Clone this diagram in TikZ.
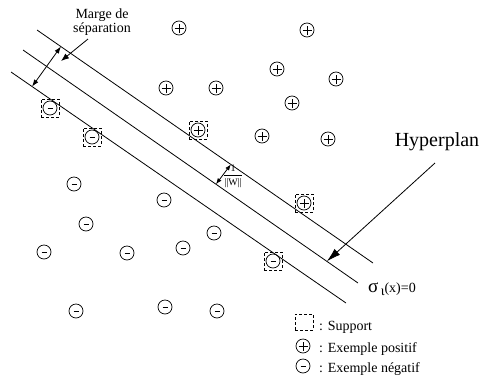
\documentclass[tikz,border=0pt]{standalone}
\usepackage{fontspec}
\setmainfont{Liberation Serif}
\usetikzlibrary{arrows.meta,calc}

\begin{document}
\begin{tikzpicture}[x=1pt,y=-1pt,
  ln/.style={line width=0.8pt},
  expoint/.style={circle,draw,line width=0.7pt,minimum size=14pt,inner sep=0pt},
  plusex/.style={expoint,path picture={\draw[line width=0.7pt]
      ([xshift=-4.5pt]path picture bounding box.center) -- ([xshift=4.5pt]path picture bounding box.center)
      ([yshift=-4.5pt]path picture bounding box.center) -- ([yshift=4.5pt]path picture bounding box.center);}},
  minusex/.style={expoint,path picture={\draw[line width=1pt]
      ([xshift=-2.5pt]path picture bounding box.center) -- ([xshift=2.5pt]path picture bounding box.center);}},
  supbox/.style={draw,dash pattern=on 3pt off 2pt,line width=0.7pt,minimum size=18pt,inner sep=0pt},
  txt/.style={font=\fontsize{14}{14.5}\selectfont, inner sep=0pt},
  arrowline/.style={line width=0.8pt},
]
\path[fill=white,use as bounding box] (0,0) rectangle (485,381);

% the three parallel lines: margin borders and separating hyperplane
\coordinate (a1) at (37,30);  \coordinate (a2) at (373,263);
\coordinate (b1) at (23,50);  \coordinate (b2) at (358,283);
\coordinate (c1) at (11,72);  \coordinate (c2) at (346,303);
\draw[ln] (a1) -- (a2);
\draw[ln] (b1) -- (b2);
\draw[ln] (c1) -- (c2);

% positive examples
\node[plusex] (p1) at (179,28) {};
\node[plusex] (p2) at (307,30) {};
\node[plusex] (p3) at (277,69) {};
\node[plusex] (p4) at (336,79) {};
\node[plusex] (p5) at (166,88) {};
\node[plusex] (p6) at (216,88) {};
\node[plusex] (p7) at (292,103) {};
\node[plusex] (p8) at (262,136) {};
\node[plusex] (p9) at (328,139) {};
\node[plusex] (ps1) at (198,130) {};
\node[plusex] (ps2) at (304,203) {};

% negative examples
\node[minusex] (n1) at (74,184) {};
\node[minusex] (n2) at (164,200) {};
\node[minusex] (n3) at (86,224) {};
\node[minusex] (n4) at (214,233) {};
\node[minusex] (n5) at (44,252) {};
\node[minusex] (n6) at (183,248) {};
\node[minusex] (n7) at (127,253) {};
\node[minusex] (n8) at (76,311) {};
\node[minusex] (n9) at (165,307) {};
\node[minusex] (n10) at (217,311) {};
\node[minusex] (ns1) at (50,108) {};
\node[minusex] (ns2) at (92,137) {};
\node[minusex] (ns3) at (273,261) {};

% support vectors
\foreach \s in {ps1,ps2,ns1,ns2,ns3}
  \node[supbox] (box-\s) at (\s.center) {};

% margin width
\draw[arrowline,{Latex[length=7pt,width=5pt]}-{Latex[length=7pt,width=5pt]}]
  ($(a1)!0.071!(a2)$) -- ($(c1)!0.063!(c2)$);
\node[txt,align=center] (marge) at (102,22) {Marge de\\séparation};
\coordinate (mp) at (88,39);
\coordinate (mt) at (61,61);
\draw[arrowline,-{Latex[length=8pt,width=6pt]}] (mp) -- (mt);

% half margin 1/||W||
\draw[arrowline,{Latex[length=6pt,width=4.5pt]}-{Latex[length=6pt,width=4.5pt]}]
  ($(a1)!0.577!(a2)$) -- ($(b1)!0.576!(b2)$);
\node[font=\fontsize{10}{10}\selectfont,inner sep=0pt] (w) at (233,176)
  {$\displaystyle{\hbox{1}\over\hbox{||W||}}$};

% hyperplane label
\node[font=\fontsize{20}{20}\selectfont,inner sep=0pt] (hyp) at (437,142) {Hyperplan};
\coordinate (hs) at (435,163);
\draw[arrowline,-{Latex[length=14pt,width=8pt]}] (hs) -- ($(b1)!0.907!(b2)$);

\node[txt,anchor=base west] (sig) at (368,292)
  {{\fontsize{19}{19}\selectfont σ}\,\raisebox{-3pt}{ι}(x)=0};

% legend
\node[draw,dash pattern=on 3pt off 2pt,line width=0.7pt,minimum width=18pt,minimum height=16pt,inner sep=0pt] (lb) at (304,322) {};
\node[plusex] (lp) at (303,346) {};
\node[minusex] (lm) at (303,366) {};
\node[txt,anchor=west] (lt1) at (319,327) {: Support};
\node[txt,anchor=west] (lt2) at (319,349) {: Exemple positif};
\node[txt,anchor=west] (lt3) at (319,369) {: Exemple négatif};
\end{tikzpicture}
\end{document}
